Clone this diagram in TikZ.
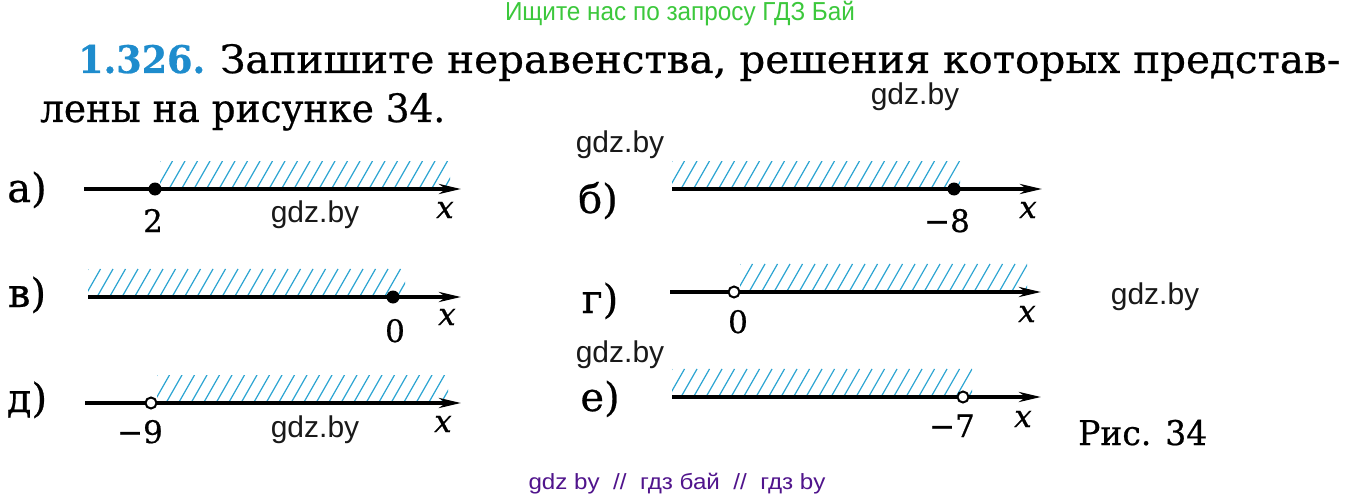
\documentclass[tikz,border=0pt]{standalone}
\usepackage{fontspec}
\usepackage{graphicx}
\setmainfont{DejaVu Serif}[FakeBold=0.6]
\newfontfamily\wmfont{Liberation Sans}
\usetikzlibrary{arrows.meta}
\definecolor{hatchblue}{RGB}{45,165,210}
\definecolor{numblue}{RGB}{30,140,205}
\definecolor{wmgreen}{RGB}{60,200,60}
\definecolor{wmpurple}{RGB}{80,20,140}
\tikzset{
  numaxis/.style={line width=3.6pt, -{Stealth[length=22pt,width=10pt,inset=7pt]}},
  fdot/.style={circle, fill=black, inner sep=0pt, minimum size=13pt},
  odot/.style={circle, draw=black, line width=2pt, fill=white, inner sep=0pt, minimum size=11pt},
  hatchline/.style={hatchblue, line width=1.2pt},
  ticklab/.style={font=\fontsize{31}{31}\selectfont, inner sep=0pt, anchor=base},
  xlab/.style={font=\fontsize{31}{31}\selectfont\itshape, inner sep=0pt, anchor=base},
  partlab/.style={font=\fontsize{40}{40}\selectfont, inner sep=0pt, anchor=base},
  wm/.style={font=\wmfont\fontsize{30}{30}\selectfont, text=black!90, inner sep=0pt},
}
\newcommand\hatchbox[4]{%
  \begin{scope}
    \clip (#1,#3) rectangle (#2,#4);
    \foreach \k in {0,...,30} \draw[hatchline] ({#1-16+\k*12.5},#4) -- ++(16,-28);
  \end{scope}}
\begin{document}
\begin{tikzpicture}[x=1pt,y=-1pt]
\useasboundingbox[fill=white] (0,0) rectangle (1357,500);

% header
\node[text=wmgreen, inner sep=0pt] (top) at (680,14)
  {\resizebox{350pt}{\height}{\wmfont\fontsize{26}{26}\selectfont Ищите нас по запросу ГДЗ Бай}};
\node[anchor=base west, inner sep=0pt, text=numblue, font=\fontsize{38}{38}\selectfont\bfseries] (num) at (78,73) {\resizebox{127pt}{\height}{1.326.}};
\node[anchor=base west, inner sep=0pt] (line1) at (220,73)
  {\resizebox{1120pt}{\height}{\fontsize{39}{39}\selectfont Запишите неравенства, решения которых представ-}};
\node[anchor=base west, inner sep=0pt] (line2) at (40,122)
  {\resizebox{405pt}{\height}{\fontsize{39}{39}\selectfont лены на рисунке 34.}};

% a)
\node[partlab] (la) at (27,202) {а)};
\hatchbox{160}{450}{161}{189}
\coordinate (a0) at (84,189); \coordinate (a1) at (461,189);
\draw[numaxis] (a0) -- (a1);
\node[fdot] (pa) at (155,189) {};
\node[ticklab] (ta) at (153,232) {2};
\node[xlab] (xa) at (445,218) {x};

% b)
\node[partlab] (lb) at (598,213) {б)};
\hatchbox{672}{960}{161}{189}
\coordinate (b0) at (672,189); \coordinate (b1) at (1042,189);
\draw[numaxis] (b0) -- (b1);
\node[fdot] (pb) at (954,189) {};
\node[ticklab] (tb) at (947,232) {−8};
\node[xlab] (xb) at (1028,218) {x};

% v)
\node[partlab] (lv) at (27,307) {в)};
\hatchbox{88}{405}{268}{297}
\coordinate (v0) at (88,297); \coordinate (v1) at (461,297);
\draw[numaxis] (v0) -- (v1);
\node[fdot] (pv) at (393,297) {};
\node[ticklab] (tv) at (395,342) {0};
\node[xlab] (xv) at (447,325) {x};

% g)
\node[partlab] (lg) at (600,313) {г)};
\hatchbox{740}{1027}{263}{292}
\coordinate (g0) at (670,292); \coordinate (g1) at (1041,292);
\draw[numaxis] (g0) -- (g1);
\node[odot] (pg) at (734,292) {};
\node[ticklab] (tg) at (738,333) {0};
\node[xlab] (xg) at (1027,322) {x};

% d)
\node[partlab] (ld) at (27,412) {д)};
\hatchbox{157}{448}{375}{403}
\coordinate (d0) at (85,403); \coordinate (d1) at (461,403);
\draw[numaxis] (d0) -- (d1);
\node[odot] (pd) at (151,403) {};
\node[ticklab] (td) at (140,443) {−9};
\node[xlab] (xd) at (443,432) {x};

% e)
\node[partlab] (le) at (600,411) {е)};
\hatchbox{672}{972}{368}{397}
\coordinate (e0) at (672,397); \coordinate (e1) at (1041,397);
\draw[numaxis] (e0) -- (e1);
\node[odot] (pe) at (963,397) {};
\node[ticklab] (te) at (952,437) {−7};
\node[xlab] (xe) at (1023,427) {x};

\node[anchor=base west, inner sep=0pt] (fig) at (1078,445)
  {\resizebox{129pt}{\height}{\fontsize{34}{34}\selectfont Рис. 34}};

% watermarks
\node[wm] (w1) at (915,97) {gdz.by};
\node[wm] (w2) at (620,145) {gdz.by};
\node[wm] (w3) at (1155,297) {gdz.by};
\node[wm] (w4) at (620,355) {gdz.by};
\node[wm] (w5) at (315,215) {gdz.by};
\node[wm] (w6) at (315,430) {gdz.by};
\node[text=wmpurple, inner sep=0pt] (bot) at (677,484)
  {\resizebox{297pt}{\height}{\wmfont\fontsize{22}{22}\selectfont gdz by\ \ //\ \ гдз бай\ \ //\ \ гдз by}};
\end{tikzpicture}
\end{document}
